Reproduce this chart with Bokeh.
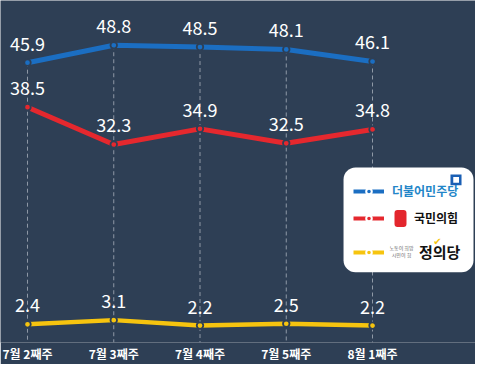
from bokeh.plotting import figure
from bokeh.models import Range1d, FixedTicker, Legend, LegendItem, BoxAnnotation, Label
from bokeh.core.properties import value
from bokeh.embed import file_html
from bokeh.resources import INLINE

# ---- data ----
weeks = ["7월 2째주", "7월 3째주", "7월 4째주", "7월 5째주", "8월 1째주"]
democratic = [45.9, 48.8, 48.5, 48.1, 46.1]
ppp = [38.5, 32.3, 34.9, 32.5, 34.8]
justice = [2.4, 3.1, 2.2, 2.5, 2.2]
party_names = ["더불어민주당", "국민의힘", "정의당"]
justice_slogan = ["노동이 희망", "시민이 힘"]

# ---- style ----
BG = "#2e3f55"
BLUE = "#1b6ec2"
RED = "#e5282e"
YELLOW = "#f6c40f"
DASH = "#8f99a6"
FONT = "Noto Sans CJK KR"

xs = list(range(len(weeks)))

p = figure(width=475, height=364, min_border=0,
           x_range=Range1d(-0.313, 5.194), y_range=Range1d(-0.62, 56.24),
           y_axis_location=None, output_backend="svg", toolbar_location=None,
           background_fill_color=BG, border_fill_color=BG, outline_line_color=None)
p.grid.visible = False

xa = p.xaxis[0]
xa.ticker = FixedTicker(ticks=xs)
xa.major_label_overrides = {i: w for i, w in enumerate(weeks)}
xa.axis_line_color = None
xa.major_tick_line_color = None
xa.minor_tick_line_color = None
xa.major_tick_out = 0
xa.major_tick_in = 0
xa.major_label_standoff = 2
xa.major_label_text_color = "white"
xa.major_label_text_font = FONT
xa.major_label_text_font_style = "bold"
xa.major_label_text_font_size = "12px"

# dashed guides from the top series down to the bottom of the frame
p.segment(x0=xs, y0=democratic, x1=xs, y1=[p.y_range.start] * len(xs),
          line_color=DASH, line_width=1, line_dash="4 3")

series = [(democratic, BLUE, 5), (ppp, RED, 5), (justice, YELLOW, 4.5)]
for vals, col, lw in series:
    p.line(xs, vals, line_color=col, line_width=lw)
    p.scatter(xs, vals, size=6.5, fill_color=col, line_color=BG, line_width=1.8)
    p.text(xs, vals, text=[f"{v:.1f}" for v in vals], text_color="white",
           text_font=value(FONT), text_font_size="18px", text_align="center",
           text_baseline="middle", y_offset=-19)

# ---- legend panel ----
p.add_layout(BoxAnnotation(left=3.664, right=5.171, top=28.46, bottom=11.04,
                           fill_color="white", fill_alpha=1, line_color=None,
                           border_radius=12))

# party logos (approximate)
p.add_layout(BoxAnnotation(left=4.904, right=5.032, top=27.31, bottom=25.51,
                           fill_color="#1a5fb4", fill_alpha=1, line_color=None))
p.add_layout(BoxAnnotation(left=4.936, right=5.003, top=26.90, bottom=25.92,
                           fill_color="white", fill_alpha=1, line_color=None))
p.add_layout(BoxAnnotation(left=4.255, right=4.394, top=21.40, bottom=18.60,
                           fill_color="#e3262d", fill_alpha=1, line_color=None,
                           border_radius=3))
for txt, yy in zip(justice_slogan, [15.15, 14.00]):
    p.add_layout(Label(x=4.336, y=yy, text=txt, text_font=FONT, text_font_size="5px",
                       text_color="#666666", text_align="center", text_baseline="middle"))
p.add_layout(Label(x=4.754, y=16.25, text="✔", text_font="DejaVu Sans",
                   text_font_size="10px", text_color=YELLOW,
                   text_align="center", text_baseline="middle"))

legend_specs = [
    (party_names[0], democratic, BLUE, "#2386c8", "12px", 8, (353, 143)),
    (party_names[1], ppp, RED, "#111111", "12px", 30, (353, 116)),
    (party_names[2], justice, YELLOW, "#111111", "15px", 35, (353, 80)),
]
for name, vals, col, tcol, fsize, standoff, loc in legend_specs:
    lr = p.line(xs, vals, line_color=col, line_width=4, visible=False)
    sr = p.scatter(xs, vals, fill_color=col, line_color="white", line_width=2,
                   visible=False)
    lg = Legend(items=[LegendItem(label=name, renderers=[lr, sr])], location=loc,
                background_fill_alpha=0, border_line_alpha=0, padding=0, margin=0,
                spacing=0, glyph_width=31, glyph_height=14, label_height=12,
                label_standoff=standoff, label_text_color=tcol, label_text_font=FONT,
                label_text_font_style="bold", label_text_font_size=fsize,
                inactive_fill_alpha=0)
    p.add_layout(lg)

open("out.html", "w").write(file_html(p, INLINE))
